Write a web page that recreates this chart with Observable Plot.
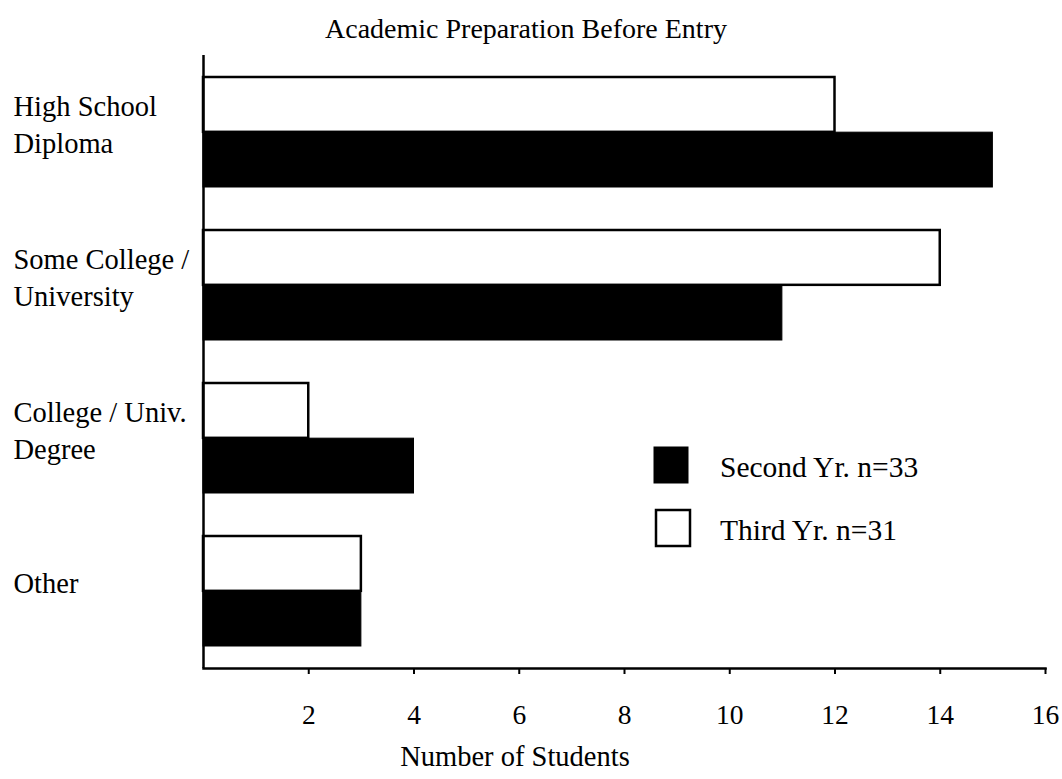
<!DOCTYPE html>
<html>
<head>
<meta charset="utf-8">
<script src="https://cdn.jsdelivr.net/npm/d3@7"></script>
<script src="https://cdn.jsdelivr.net/npm/@observablehq/plot@0.6"></script>
<style>
  html, body { margin: 0; padding: 0; background: #fff; }
  #wrap { position: relative; width: 1062px; height: 779px; overflow: hidden; }
  #wrap svg { display: block; }
  #overlay { position: absolute; left: 0; top: 0; pointer-events: none; }
</style>
</head>
<body>
<div id="wrap"></div>
<script>
// ---- data ----
const title = "Academic Preparation Before Entry";
const xLabel = "Number of Students";
const categories = ["High School\nDiploma", "Some College /\nUniversity", "College / Univ.\nDegree", "Other"];
const secondYr = [15, 11, 4, 3];
const thirdYr = [12, 14, 2, 3];
const seriesNames = ["Second Yr. n=33", "Third Yr. n=31"];
const seriesFills = ["black", "white"];
const xTicks = [2, 4, 6, 8, 10, 12, 14, 16];

const rows = categories.map((c, i) => ({category: c, second: secondYr[i], third: thirdYr[i]}));

// ---- layout ----
const W = 1062, H = 779;
const mTop = 55, mBottom = 111, mLeft = 203, mRight = 17;
const padIn = 0.28, padOut = 0.14;
const step = (H - mTop - mBottom) / (categories.length - padIn + 2 * padOut);
const half = step * (1 - padIn) / 2;
const font = "'Liberation Serif', 'Times New Roman', serif";

const plot = Plot.plot({
  width: W,
  height: H,
  marginTop: mTop,
  marginBottom: mBottom,
  marginLeft: mLeft,
  marginRight: mRight,
  style: {fontFamily: font, fontSize: "27px", color: "black", background: "white"},
  x: {domain: [0, 16], axis: null},
  y: {domain: categories, paddingInner: padIn, paddingOuter: padOut, axis: null},
  marks: [
    Plot.barX(rows, {y: "category", x: "third", fill: seriesFills[1], stroke: "black", strokeWidth: 2.5, insetBottom: half}),
    Plot.barX(rows, {y: "category", x: "second", fill: seriesFills[0], stroke: "black", strokeWidth: 1, insetTop: half}),
    Plot.ruleX([0], {stroke: "black", strokeWidth: 2.5}),
    Plot.frame({anchor: "bottom", stroke: "black", strokeWidth: 2.5}),
    Plot.axisX({ticks: xTicks, tickSize: 6, tickPadding: 30, strokeWidth: 2, fontSize: 27.5, label: null, anchor: "bottom"}),
    Plot.text(categories, {y: d => d, text: d => d, frameAnchor: "left", dx: -190, dy: -10, textAnchor: "start", lineAnchor: "middle", lineHeight: 1.3, fontSize: 28.5})
  ]
});
document.getElementById("wrap").appendChild(plot);

// ---- title, axis label and legend ----
const ov = d3.select("#wrap").append("svg")
  .attr("id", "overlay").attr("width", W).attr("height", H)
  .style("font-family", font).style("font-size", "28px");
ov.append("text").attr("x", 526).attr("y", 38).attr("text-anchor", "middle").text(title);
ov.append("text").attr("x", 515).attr("y", 766).attr("text-anchor", "middle").style("font-size", "28.5px").text(xLabel);

const lg = ov.append("g").style("font-size", "29.5px");
seriesNames.forEach((name, i) => {
  const y0 = 447 + i * 62;
  lg.append("rect").attr("x", 654 + i * 2).attr("y", y0 + i * 1).attr("width", 34).attr("height", 36)
    .attr("fill", seriesFills[i]).attr("stroke", "black").attr("stroke-width", i ? 2.5 : 1);
  lg.append("text").attr("x", 720).attr("y", y0 + 30 + i * 1).text(name);
});
</script>
</body>
</html>
